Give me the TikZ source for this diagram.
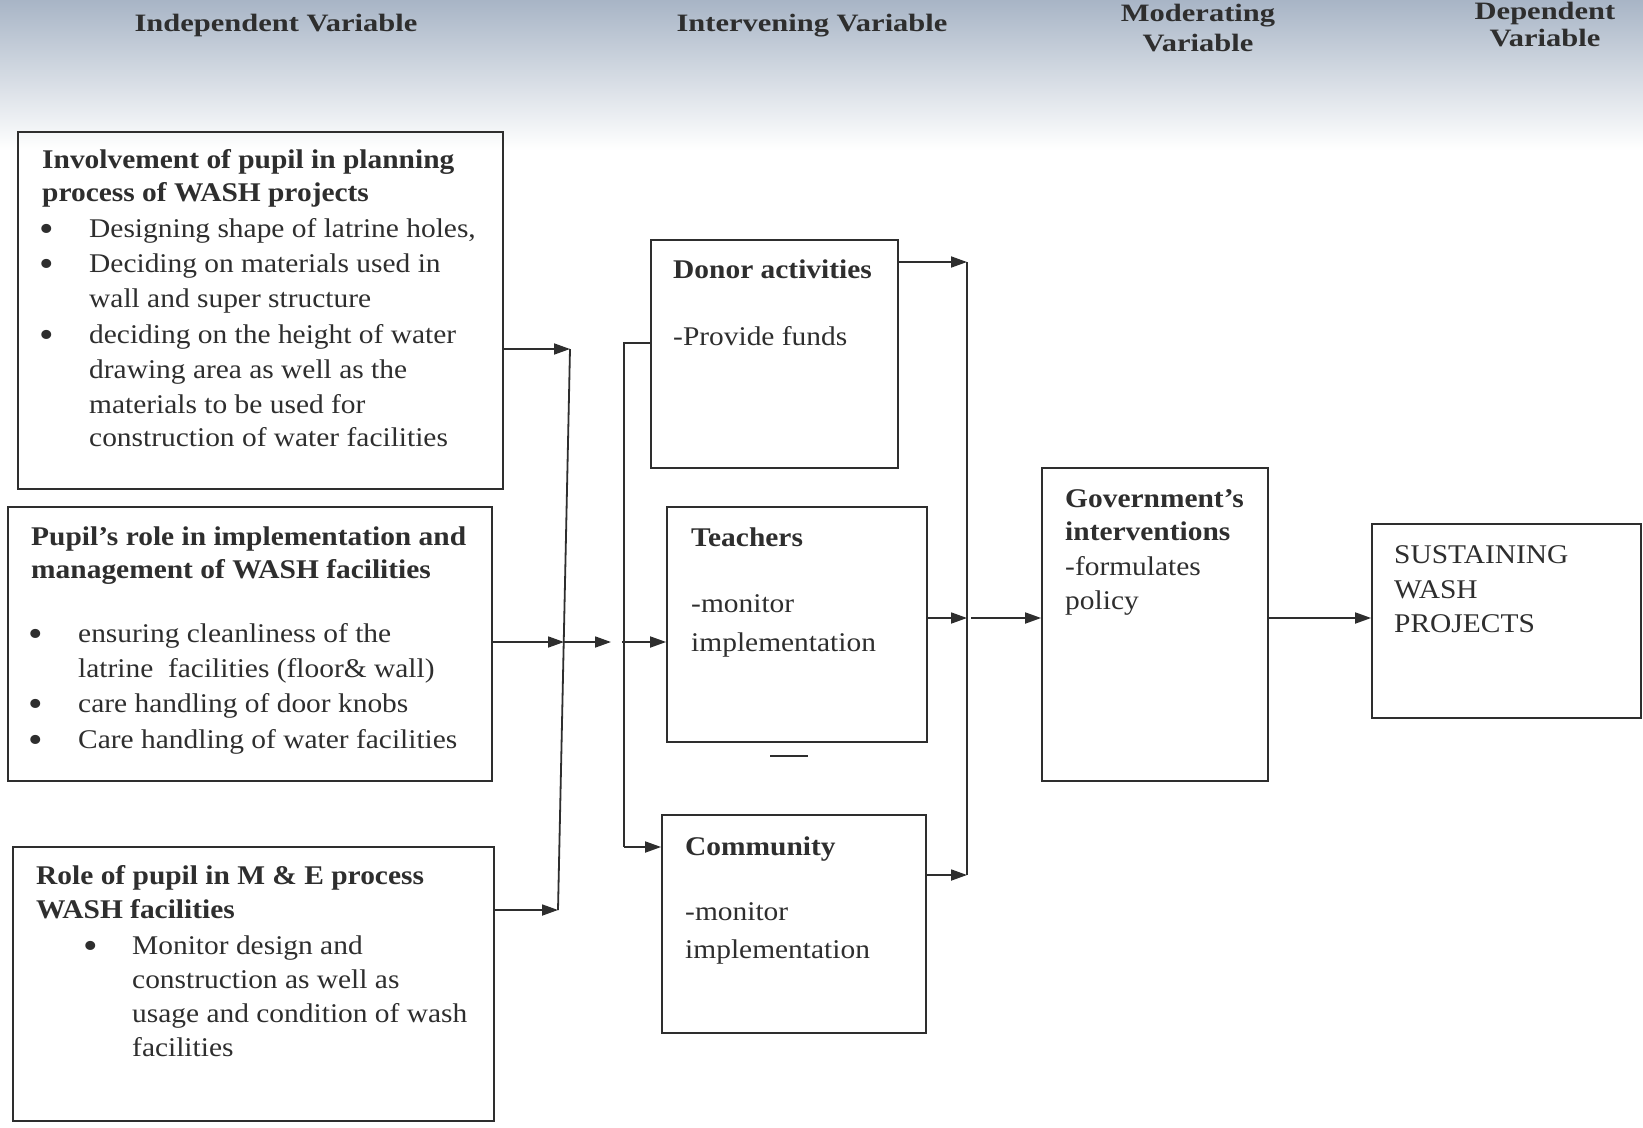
\documentclass[tikz,border=0pt]{standalone}
\usepackage{fontspec}
\setmainfont{Liberation Serif}[FakeStretch=1.09]
\newfontfamily\hdrfont{Liberation Serif}[FakeStretch=1.22]
\usetikzlibrary{arrows.meta}
\definecolor{ink}{HTML}{2E2E2E}
\definecolor{hdrtop}{RGB}{168,181,198}
\begin{document}
\begin{tikzpicture}[x=1pt,y=-1pt,
  box/.style={draw=ink, line width=1.8pt, rectangle, inner sep=0pt},
  t/.style={inner sep=0pt, text=ink, font=\fontsize{27}{32}\selectfont, anchor=base west},
  bul/.style={inner sep=0pt, text=ink, font=\fontsize{38}{38}\selectfont, anchor=center},
  hdr/.style={inner sep=0pt, text=ink, font=\hdrfont\fontsize{25}{28}\selectfont\bfseries, align=center},
  arr/.style={draw=ink, line width=1.8pt, -{Triangle[length=16pt,width=11pt]}},
  ln/.style={draw=ink, line width=1.8pt}]
\useasboundingbox (0,0) rectangle (1643,1127);
\fill[white] (0,0) rectangle (1643,1127);
\shade[top color=hdrtop, bottom color=white] (0,0) rectangle (1643,150);

% headers
\node[hdr] (h1) at (276,25) {Independent Variable};
\node[hdr] (h2) at (812,26) {Intervening Variable};
\node[hdr] (h3a) at (1198,16) {Moderating};
\node[hdr] (h3b) at (1198,43) {Variable};
\node[hdr] (h4a) at (1545,13) {Dependent};
\node[hdr] (h4b) at (1545,38) {Variable};

% boxes
\node[box, minimum width=485pt, minimum height=357pt] (b1) at (260.5,310.5) {};
\node[box, minimum width=484pt, minimum height=274pt] (b2) at (250,644) {};
\node[box, minimum width=481pt, minimum height=274pt] (b3) at (253.5,984) {};
\node[box, minimum width=247pt, minimum height=228pt] (donor) at (774.5,354) {};
\node[box, minimum width=260pt, minimum height=235pt] (teach) at (797,624.5) {};
\node[box, minimum width=264pt, minimum height=218pt] (comm) at (794,924) {};
\node[box, minimum width=226pt, minimum height=313pt] (gov) at (1155,624.5) {};
\node[box, minimum width=269pt, minimum height=194pt] (sust) at (1506.5,621) {};

% box 1 text
\node[t] (b1t1) at (42,168) {\bfseries Involvement of pupil in planning};
\node[t] (b1t2) at (42,201) {\bfseries process of WASH projects};
\node[bul] (b1u1) at (47,233) {•};
\node[t] (b1l1) at (89,237) {Designing shape of latrine holes,};
\node[bul] (b1u2) at (47,268) {•};
\node[t] (b1l2) at (89,272) {Deciding on materials used in};
\node[t] (b1l3) at (89,307) {wall and super structure};
\node[bul] (b1u3) at (47,339) {•};
\node[t] (b1l4) at (89,343) {deciding on the height of water};
\node[t] (b1l5) at (89,378) {drawing area as well as the};
\node[t] (b1l6) at (89,413) {materials to be used for};
\node[t] (b1l7) at (89,446) {construction of water facilities};

% box 2 text
\node[t] (b2t1) at (31,545) {\bfseries Pupil’s role in implementation and};
\node[t] (b2t2) at (31,578) {\bfseries management of WASH facilities};
\node[bul] (b2u1) at (36,638) {•};
\node[t] (b2l1) at (78,642) {ensuring cleanliness of the};
\node[t] (b2l2) at (78,677) {latrine\ \ facilities (floor\& wall)};
\node[bul] (b2u2) at (36,708) {•};
\node[t] (b2l3) at (78,712) {care handling of door knobs};
\node[bul] (b2u3) at (36,744) {•};
\node[t] (b2l4) at (78,748) {Care handling of water facilities};

% box 3 text
\node[t] (b3t1) at (36,884) {\bfseries Role of pupil in M \& E process};
\node[t] (b3t2) at (36,918) {\bfseries WASH facilities};
\node[bul] (b3u1) at (91,950) {•};
\node[t] (b3l1) at (132,954) {Monitor design and};
\node[t] (b3l2) at (132,988) {construction as well as};
\node[t] (b3l3) at (132,1022) {usage and condition of wash};
\node[t] (b3l4) at (132,1056) {facilities};

% intervening texts
\node[t] (dt1) at (673,278) {\bfseries Donor activities};
\node[t] (dt2) at (673,345) {-Provide funds};
\node[t] (tt1) at (691,546) {\bfseries Teachers};
\node[t] (tt2) at (691,612) {-monitor};
\node[t] (tt3) at (691,651) {implementation};
\node[t] (ct1) at (685,855) {\bfseries Community};
\node[t] (ct2) at (685,920) {-monitor};
\node[t] (ct3) at (685,958) {implementation};

% government
\node[t] (gt1) at (1065,507) {\bfseries Government’s};
\node[t] (gt2) at (1065,540) {\bfseries interventions};
\node[t] (gt3) at (1065,575) {-formulates};
\node[t] (gt4) at (1065,609) {policy};

% dependent
\node[t] (st1) at (1394,563) {SUSTAINING};
\node[t] (st2) at (1394,598) {WASH};
\node[t] (st3) at (1394,632) {PROJECTS};

% bus coordinates
\coordinate (busLtop) at (570,349);
\coordinate (busLbot) at (558,910);
\coordinate (busLmid) at (564,642);
\coordinate (busLout) at (611,642);
\coordinate (busMtop) at (624,343);
\coordinate (busMmid) at (622,642);
\coordinate (busMbot) at (624,847);
\coordinate (busRtop) at (967,262);
\coordinate (busRmid) at (967,618);
\coordinate (busRbot) at (967,875);
\coordinate (busRout) at (971,618);
\coordinate (dashA) at (770,756);
\coordinate (dashB) at (808,756);

% left bus
\draw[ln] (busLtop) -- (busLbot);
\draw[arr] (b1.east |- busLtop) -- (busLtop);
\draw[arr] (b2.east |- busLmid) -- (busLmid);
\draw[arr] (b3.east |- busLbot) -- (busLbot);
\draw[arr] (busLmid) -- (busLout);

% middle bus
\draw[ln] (donor.west |- busMtop) -- (busMtop) -- (busMbot);
\draw[arr] (busMbot) -- (comm.west |- busMbot);
\draw[arr] (busMmid) -- (teach.west |- busMmid);

% right bus
\draw[ln] (busRtop) -- (busRbot);
\draw[arr] (donor.east |- busRtop) -- (busRtop);
\draw[arr] (teach.east |- busRmid) -- (busRmid);
\draw[arr] (comm.east |- busRbot) -- (busRbot);
\draw[arr] (busRout) -- (gov.west |- busRmid);
\draw[arr] (gov.east |- busRmid) -- (sust.west |- busRmid);

% small stray dash below Teachers
\draw[ln, line width=1.4pt] (dashA) -- (dashB);
\end{tikzpicture}
\end{document}
